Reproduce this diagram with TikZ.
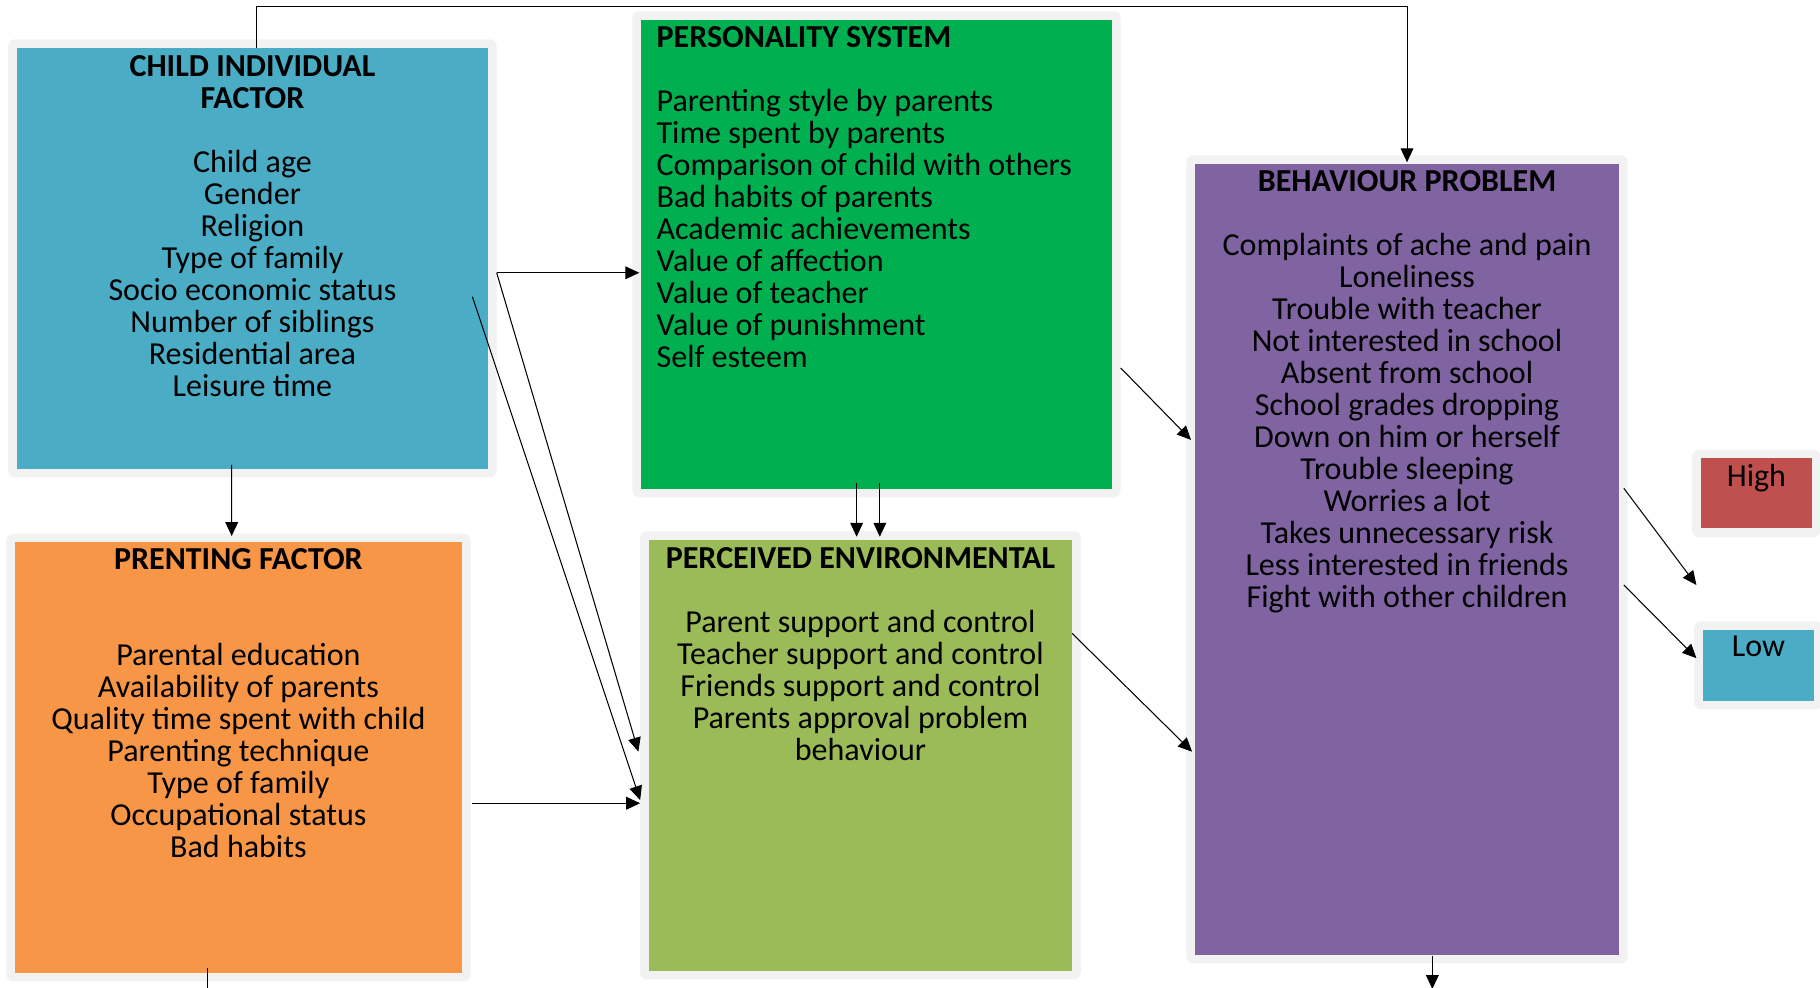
\documentclass[tikz,border=0pt]{standalone}
\usepackage{fontspec}
\setmainfont{Carlito}
\usetikzlibrary{arrows.meta,calc}
\definecolor{frame}{HTML}{F2F2F2}
\definecolor{cteal}{HTML}{4BACC6}
\definecolor{cgreen}{HTML}{00B050}
\definecolor{cpurple}{HTML}{8064A2}
\definecolor{corange}{HTML}{F79646}
\definecolor{colive}{HTML}{9BBB59}
\definecolor{cred}{HTML}{C0504D}
\newcommand\boxfont{\fontsize{27.6}{27.55}\selectfont\lineskiplimit=-50pt\relax}
\begin{document}
\begin{tikzpicture}[x=1pt,y=-1pt,
  fbox/.style={fill=frame, rounded corners=6pt, inner sep=0pt, outer sep=0pt,
    path picture={\fill[#1, sharp corners]
      ([shift={(7.5pt,7.5pt)}]path picture bounding box.south west) rectangle
      ([shift={(-7.5pt,-7.5pt)}]path picture bounding box.north east);}},
  txt/.style={font=\boxfont, inner sep=0pt, anchor=north, align=center, text=black},
  arr/.style={draw=black, line width=0.9pt, -{Triangle[length=12pt,width=11pt]}},
  ln/.style={draw=black, line width=0.9pt}]

\fill[white] (0,0) rectangle (1568,851);
\useasboundingbox (0,0) rectangle (1568,851);

% boxes
\node[fbox=cteal,   minimum width=420.8pt, minimum height=377.4pt] (child) at (217.5,222.6) {};
\node[fbox=cgreen,  minimum width=420.7pt, minimum height=418.8pt] (pers)  at (755.15,219.1) {};
\node[fbox=cpurple, minimum width=380.2pt, minimum height=696.2pt] (beh)   at (1212.2,481.9) {};
\node[fbox=corange, minimum width=400pt,   minimum height=385.7pt] (par)   at (205.4,652.65) {};
\node[fbox=colive,  minimum width=379.6pt, minimum height=386.1pt] (per)   at (741.3,650.75) {};
\node[fbox=cred,    minimum width=110.7pt, minimum height=75.3pt]  (high)  at (1513.15,425.05) {};
\node[fbox=cteal,   minimum width=110.7pt, minimum height=75.9pt]  (low)   at (1514.85,573.25) {};

% box texts
\node[txt] (childtxt) at (217.5,43.5) {\rule{0pt}{22pt}\textbf{CHILD INDIVIDUAL}\\
  \textbf{FACTOR}\\[27.55pt]
  Child age\\ Gender\\ Religion\\ Type of family\\ Socio economic status\\
  Number of siblings\\ Residential area\\ Leisure time};
\node[txt, anchor=north west, align=left] (perstxt) at (565.5,19.1)
  {\rule{0pt}{22pt}\textbf{PERSONALITY SYSTEM}\\[27.55pt]
  Parenting style by parents\\ Time spent by parents\\ Comparison of child with others\\
  Bad habits of parents\\ Academic achievements\\ Value of affection\\
  Value of teacher\\ Value of punishment\\ Self esteem};
\node[txt] (behtxt) at (1212.2,143.1) {\rule{0pt}{22pt}\textbf{BEHAVIOUR PROBLEM}\\[27.55pt]
  Complaints of ache and pain\\ Loneliness\\ Trouble with teacher\\
  Not interested in school\\ Absent from school\\ School grades dropping\\
  Down on him or herself\\ Trouble sleeping\\ Worries a lot\\
  Takes unnecessary risk\\ Less interested in friends\\ Fight with other children};
\node[txt] (partxt) at (205.4,468.5) {\rule{0pt}{22pt}\textbf{PRENTING FACTOR}\\[55.1pt]
  Parental education\\ Availability of parents\\ Quality time spent with child\\
  Parenting technique\\ Type of family\\ Occupational status\\ Bad habits};
\node[txt] (pertxt) at (741.3,467.6) {\rule{0pt}{22pt}\textbf{PERCEIVED ENVIRONMENTAL}\\[27.55pt]
  Parent support and control\\ Teacher support and control\\
  Friends support and control\\ Parents approval problem\\ behaviour};
\node[txt] (hightxt) at (1513.2,397.3) {\rule{0pt}{22pt}High};
\node[txt] (lowtxt) at (1514.9,543.8) {\rule{0pt}{22pt}Low};

% free ends
\coordinate (hightip) at ([xshift=3.7pt,yshift=-41.3pt]high.south west);
\coordinate (behout) at ([xshift=21.8pt,yshift=-22pt]beh.south);
\coordinate (parout) at ([xshift=-26.4pt,yshift=-8pt]par.south);

% connectors
\draw[arr] ([xshift=3.2pt,yshift=-7.5pt]child.north) -- ++(0,-35.4) -| ([yshift=-6pt]beh.north);
\draw[arr] ([yshift=-12.4pt]child.east) -- ([xshift=6pt,yshift=-15.9pt]pers.west);
\draw[arr] ([yshift=-12.4pt]child.east) -- ([xshift=-1.5pt,yshift=3.25pt]per.west);
\draw[arr] ([xshift=-20.9pt,yshift=-33pt]child.east) -- ([yshift=-38.5pt]per.west);
\draw[arr] ([xshift=1.6pt,yshift=-39.35pt]par.east) -- ([yshift=-41.25pt]per.west);
\draw[arr] ([xshift=-17.9pt,yshift=10.7pt]child.south) -- ([xshift=-5.8pt,yshift=-2pt]par.north);
\draw[arr] ([xshift=-17.15pt,yshift=12.5pt]pers.south) -- ([xshift=-3.3pt,yshift=-4.7pt]per.north);
\draw[arr] ([xshift=2.85pt,yshift=12.5pt]pers.south) -- ([xshift=16.7pt,yshift=-4.7pt]per.north);
\draw[arr] ([yshift=-97.9pt]pers.east) -- ([xshift=4pt,yshift=102.9pt]beh.west);
\draw[arr] ([xshift=-7.5pt,yshift=105.15pt]per.east) -- ([xshift=4.9pt,yshift=-165.7pt]beh.west);
\draw[arr] ([xshift=-3.3pt,yshift=61.2pt]beh.east) -- (hightip);
\draw[arr] ([xshift=-3.3pt,yshift=-22.1pt]beh.east) -- ([xshift=2pt,yshift=6.25pt]low.west);
\draw[arr] ([xshift=21.8pt,yshift=6pt]beh.south) -- (behout);
\draw[ln] ([xshift=-26.4pt,yshift=11.5pt]par.south) -- (parout);
\end{tikzpicture}
\end{document}
